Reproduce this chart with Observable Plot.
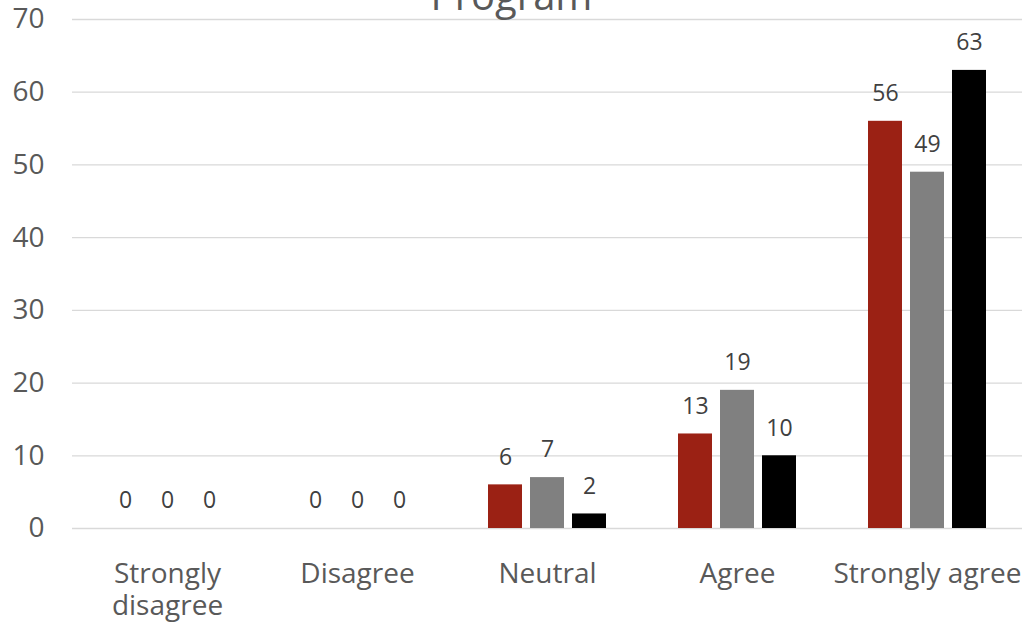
<!DOCTYPE html>
<html>
<head>
<meta charset="utf-8">
<script src="https://cdn.jsdelivr.net/npm/d3@7"></script>
<script src="https://cdn.jsdelivr.net/npm/@observablehq/plot@0.6"></script>
<style>
  html, body { margin: 0; padding: 0; background: #fff; overflow: hidden; }
  #wrap { position: relative; width: 1023px; height: 628px; overflow: hidden; }
  #title { position: absolute; left: 0; width: 1023px; top: -25px; text-align: center;
           font-family: "Open Sans", sans-serif; font-size: 40px; line-height: 40px; color: #595959; }
  #chart { position: absolute; left: 0; top: 0; }
</style>
</head>
<body>
<div id="wrap">
  <div id="chart"></div>
  <div id="title">Program</div>
</div>
<script>
const categories = ["Strongly disagree", "Disagree", "Neutral", "Agree", "Strongly agree"];
const seriesNames = ["Series 1", "Series 2", "Series 3"];
const series1 = [0, 0, 6, 13, 56];
const series2 = [0, 0, 7, 19, 49];
const series3 = [0, 0, 2, 10, 63];
const seriesColors = ["#9b2114", "#808080", "#000000"];
const yTicks = [0, 10, 20, 30, 40, 50, 60, 70];

const allSeries = [series1, series2, series3];
const data = categories.flatMap((c, i) =>
  seriesNames.map((s, j) => ({category: c, series: s, value: allSeries[j][i]}))
);

const chart = Plot.plot({
  width: 1023,
  height: 628,
  marginLeft: 72,
  marginRight: 1,
  marginTop: 19,
  marginBottom: 100,
  style: {fontFamily: "Open Sans", background: "transparent"},
  fx: {domain: categories, padding: 0, label: null},
  x: {domain: seriesNames, paddingInner: 0.1905, paddingOuter: 0, insetLeft: 36, insetRight: 36, axis: null},
  y: {domain: [0, 70], label: null},
  color: {domain: seriesNames, range: seriesColors},
  marks: [
    Plot.gridY({ticks: yTicks, stroke: "#d9d9d9", strokeOpacity: 1, strokeWidth: 1.3}),
    Plot.axisY({ticks: yTicks, tickSize: 0, tickPadding: 28, fontSize: 28, color: "#595959", label: null}),
    Plot.barY(data, {fx: "category", x: "series", y: "value", fill: "series"}),
    Plot.text(data, {fx: "category", x: "series", y: "value", text: "value", dy: -27.5, fontSize: 23, fill: "#404040"}),
    Plot.axisFx({anchor: "bottom", tickSize: 0, tickPadding: 32, lineAnchor: "top", fontSize: 28, lineHeight: 1.14, color: "#595959", label: null,
      tickFormat: d => d === "Strongly disagree" ? "Strongly\ndisagree" : d})
  ]
});
document.getElementById("chart").appendChild(chart);
</script>
</body>
</html>
